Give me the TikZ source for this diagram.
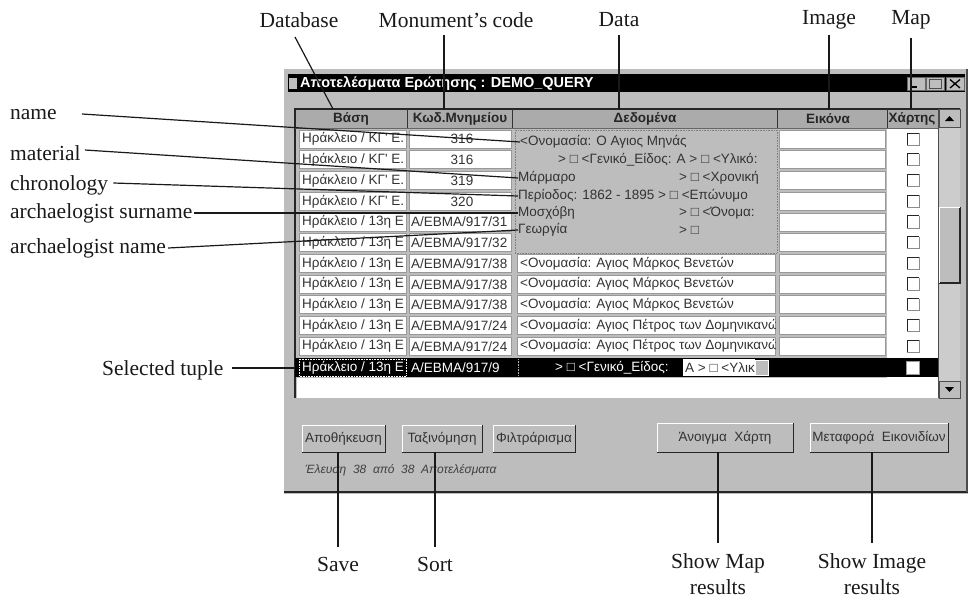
\documentclass[tikz,border=0pt]{standalone}
\usepackage{fontspec}
\setmainfont{Liberation Serif}
\newfontfamily\winfont{Liberation Sans}
\definecolor{hatch}{gray}{0.74}
\definecolor{hatchdk}{gray}{0.67}
\definecolor{track}{gray}{0.80}
\tikzset{
  ann/.style={font=\fontsize{21.5}{26}\selectfont, inner sep=0pt, text=black!90},
  conn/.style={draw=black!90, line width=1.2pt},
  cellbox/.style={fill=white, draw=black!40, line width=0.5pt},
  celltext/.style={font=\winfont\fontsize{13.5}{15}\selectfont, inner sep=0pt, text=black!80},
  hdrtext/.style={font=\winfont\bfseries\fontsize{13.5}{15}\selectfont, inner sep=0pt, text=black!85},
  btnbox/.style={fill=hatch, draw=white, line width=0.8pt, inner sep=0pt, font=\winfont\fontsize{13.5}{15}\selectfont, text=black!80},
}
\newcommand{\tabrow}[6]{%
  \pgfmathsetmacro{\rtop}{130+20.7*#1}%
  \pgfmathsetmacro{\rbot}{\rtop+18}%
  \pgfmathsetmacro{\rmid}{\rtop+9.3}%
  \filldraw[cellbox] (299,\rtop) rectangle (406,\rbot);
  \filldraw[cellbox] (409,\rtop) rectangle (511,\rbot);
  \filldraw[cellbox] (779,\rtop) rectangle (885,\rbot);
  \begin{scope}
    \clip (299,\rtop) rectangle (406,\rbot);
    \node[celltext, anchor=west] (base#1) at (302,\rmid) {#2};
  \end{scope}
  \node[celltext, anchor=#5] (code#1) at (#4,\rmid) {#3};
  \draw[black!85, line width=1pt] (907,\rtop+15) -- (907,\rtop+3) -- (919,\rtop+3);
  \draw[black!45, line width=0.6pt] (919,\rtop+3) -- (919,\rtop+15) -- (907,\rtop+15);
  \ifx&#6&\else
    \filldraw[cellbox] (517,\rtop) rectangle (775,\rbot);
    \begin{scope}
      \clip (517,\rtop) rectangle (775,\rbot);
      \node[celltext, anchor=west] (data#1) at (520,\rmid) {#6};
    \end{scope}
  \fi
}
\begin{document}
\begin{tikzpicture}[x=1pt,y=-1pt]
\useasboundingbox (0,0) rectangle (969,602);

% ---------------- window ----------------
\fill[hatch] (284,69) rectangle (968,494);
\fill[black] (288,74) rectangle (965,92);
\fill[hatch] (289,78) rectangle (297,89);
\node[anchor=west, inner sep=0pt, font=\winfont\bfseries\fontsize{14.5}{16}\selectfont, text=white] (title) at (300,83.5) {Αποτελέσματα Ερώτησης : DEMO\_QUERY};
% title buttons
\filldraw[fill=hatch, draw=black!60] (907,77) rectangle (925,90);
\draw[black, line width=1.5pt] (910,87) -- (917,87);
\filldraw[fill=hatch, draw=black!60] (926,77) rectangle (944,90);
\draw[black!70, line width=0.8pt] (929,79.5) rectangle (941,88);
\filldraw[fill=hatch, draw=black!60] (946,77) rectangle (964,90);
\draw[black, line width=1.3pt] (950,79.5) -- (960,88) (950,88) -- (960,79.5);

% ---------------- table ----------------
\coordinate (hdrtop) at (295,109);
\fill[hatchdk] (295,109) rectangle (938,128);
\fill[white] (887,128) rectangle (938,398);
\fill[white] (297,378) rectangle (938,398);
\draw[black!85, line width=1.2pt] (295,398) -- (295,109) -- (960,109);
\foreach \cx in {407,512,777,887,938} \draw[black!80, line width=1pt] (\cx,109) -- (\cx,128);
\draw[black!60, line width=0.6pt] (295,128) -- (938,128);
\node[hdrtext] (hbase) at (351,118.5) {Βάση};
\node[hdrtext] (hcode) at (460,118.5) {Κωδ.Μνημείου};
\node[hdrtext] (hdata) at (645,118.5) {Δεδομένα};
\node[hdrtext] (himg) at (828,118.5) {Εικόνα};
\node[hdrtext] (hmap) at (912,118.5) {Χάρτης};

% expanded data cell (rows 1-6)
\draw[black!50, densely dotted, line width=0.6pt] (515,130) rectangle (777,253);
\node[celltext, anchor=west] (d1) at (520,142) {<Ονομασία: Ο Αγιος Μηνάς};
\node[celltext, anchor=west] (d2) at (558,160) {> □ <Γενικό\_Είδος: Α > □ <Υλικό:};
\node[celltext, anchor=west] (d3) at (518,178) {Μάρμαρο};
\node[celltext, anchor=west] (d3r) at (679,178) {> □ <Χρονική};
\node[celltext, anchor=west] (d4) at (518,196) {Περίοδος: 1862 - 1895 > □ <Επώνυμο};
\node[celltext, anchor=west] (d5) at (518,213) {Μοσχόβη};
\node[celltext, anchor=west] (d5r) at (679,213) {> □ <Όνομα:};
\node[celltext, anchor=west] (d6) at (518,230) {Γεωργία};
\node[celltext, anchor=west] (d6r) at (679,230) {> □};

\tabrow{0}{Ηράκλειο / ΚΓ' Ε.}{316}{462}{center}{}
\tabrow{1}{Ηράκλειο / ΚΓ' Ε.}{316}{462}{center}{}
\tabrow{2}{Ηράκλειο / ΚΓ' Ε.}{319}{462}{center}{}
\tabrow{3}{Ηράκλειο / ΚΓ' Ε.}{320}{462}{center}{}
\tabrow{4}{Ηράκλειο / 13η Ε}{A/EBMA/917/31}{411}{west}{}
\tabrow{5}{Ηράκλειο / 13η Ε}{A/EBMA/917/32}{411}{west}{}
\tabrow{6}{Ηράκλειο / 13η Ε}{A/EBMA/917/38}{411}{west}{<Ονομασία: Αγιος Μάρκος Βενετών}
\tabrow{7}{Ηράκλειο / 13η Ε}{A/EBMA/917/38}{411}{west}{<Ονομασία: Αγιος Μάρκος Βενετών}
\tabrow{8}{Ηράκλειο / 13η Ε}{A/EBMA/917/38}{411}{west}{<Ονομασία: Αγιος Μάρκος Βενετών}
\tabrow{9}{Ηράκλειο / 13η Ε}{A/EBMA/917/24}{411}{west}{<Ονομασία: Αγιος Πέτρος των Δομηνικανών}
\tabrow{10}{Ηράκλειο / 13η Ε}{A/EBMA/917/24}{411}{west}{<Ονομασία: Αγιος Πέτρος των Δομηνικανών}

% selected row
\node[fill=black, minimum width=643pt, minimum height=19pt, inner sep=0pt, anchor=north west] (selrow) at (295,358) {};
\begin{scope}
  \clip (299,358) rectangle (406,377);
  \node[celltext, anchor=west, text=white] (base11) at (302,367.5) {Ηράκλειο / 13η Ε};
\end{scope}
\draw[white, densely dotted, line width=0.6pt] (299,359) rectangle (406,376);
\node[celltext, anchor=west, text=white] (code11) at (411,367.5) {A/EBMA/917/9};
\draw[white!70!black, densely dotted, line width=0.6pt] (518,359) -- (518,376);
\node[celltext, anchor=west, text=white] (data11) at (555,367.5) {> □ <Γενικό\_Είδος:};
\fill[white] (683,359) rectangle (755,376);
\begin{scope}
  \clip (683,359) rectangle (755,376);
  \node[celltext, anchor=west] (data11b) at (685,367.5) {Α > □ <Υλικό};
\end{scope}
\filldraw[fill=hatch, draw=white] (755,360) rectangle (768,375);
\filldraw[fill=white, draw=black!40] (906,361) rectangle (919,374);

% scrollbar
\fill[track] (939,127) rectangle (960,381);
\filldraw[fill=hatch, draw=black!70, line width=0.6pt] (939,109) rectangle (960,127);
\fill[black] (945,121) -- (954,121) -- (949.5,116) -- cycle;
\filldraw[fill=hatch, draw=black!70, line width=0.6pt] (939,381) rectangle (960,398);
\fill[black] (945,387) -- (954,387) -- (949.5,392) -- cycle;
\fill[hatch] (939,207) rectangle (960,283);
\draw[black!85, line width=1.2pt] (939,283) -- (960,283) -- (960,207);
\draw[white, line width=0.6pt] (939,283) -- (939,207) -- (960,207);
\draw[black!70, line width=0.8pt] (938,109) -- (938,398);

% buttons
\node[btnbox, minimum width=83pt, minimum height=27pt] (bsave) at (343.5,438.5) {Αποθήκευση};
\node[btnbox, minimum width=80pt, minimum height=27pt] (bsort) at (442,438.5) {Ταξινόμηση};
\node[btnbox, minimum width=82pt, minimum height=27pt] (bfilt) at (534,438.5) {Φιλτράρισμα};
\node[btnbox, minimum width=136pt, minimum height=29pt] (bmap) at (725,437.5) {Άνοιγμα\ \ Χάρτη};
\node[btnbox, minimum width=138pt, minimum height=29pt] (bimg) at (879,437.5) {Μεταφορά\ \ Εικονιδίων};
\foreach \b in {bsave,bsort,bfilt,bmap,bimg}
  \draw[black!85, line width=1.4pt] (\b.south west) -- (\b.south east) -- (\b.north east);
\node[anchor=west, inner sep=0pt, font=\winfont\itshape\fontsize{12}{14}\selectfont, text=black!75] (status) at (305,470) {Έλευση\ \ 38\ \ από\ \ 38\ \ Αποτελέσματα};

% window bottom / right edges
\draw[black!85, line width=2.5pt] (284,492) -- (968,492);
\draw[black!70, line width=1.5pt] (967,69) -- (967,492);

% ---------------- annotations ----------------
\node[ann] (lbldb) at (299,20) {Database};
\node[ann] (lblmon) at (456,20) {Monument’s code};
\node[ann] (lbldata) at (619,20) {Data};
\node[ann] (lblimg) at (829,20) {Image};
\node[ann] (lblmap) at (911,20) {Map};
\coordinate (dbA) at (295,37);
\coordinate (dbB) at (333,109);
\coordinate (monA) at (444,35);
\draw[conn] (dbA) -- (dbB);
\draw[conn] (monA) -- (monA |- hdrtop);
\draw[conn] ([yshift=-8pt]lbldata.south) -- (lbldata.south |- hdrtop);
\draw[conn] ([yshift=-5pt]lblimg.south) -- (lblimg.south |- hdrtop);
\draw[conn] ([yshift=-8pt]lblmap.south) -- (lblmap.south |- hdrtop);

\node[ann, anchor=west] (lblname) at (10,115) {name};
\node[ann, anchor=west] (lblmat) at (10,153) {material};
\node[ann, anchor=west] (lblchr) at (10,185) {chronology};
\node[ann, anchor=west] (lblsur) at (10,213) {archaelogist surname};
\node[ann, anchor=west] (lblarn) at (10,248) {archaelogist name};
\node[ann, anchor=west] (lblsel) at (102,370) {Selected tuple};
\draw[conn] ([xshift=25pt,yshift=1pt]lblname.east) -- (d1.west);
\draw[conn] ([xshift=4pt,yshift=3pt]lblmat.east) -- (d3.west);
\draw[conn] ([xshift=5pt,yshift=2pt]lblchr.east) -- (d4.west);
\draw[conn] ([xshift=2pt]lblsur.east) -- (d5.west);
\draw[conn] ([xshift=2pt]lblarn.east) -- (d6.west);
\coordinate (selA) at ([xshift=8pt,yshift=2pt]lblsel.east);
\draw[conn] (selA) -- (selA -| selrow.west);

\node[ann] (lblsave) at (338,564) {Save};
\node[ann] (lblsort) at (435,564) {Sort};
\node[ann, align=center] (lblsmap) at (718,574) {Show Map\\results};
\node[ann, align=center] (lblsimg) at (872,574) {Show Image\\results};
\draw[conn] (lblsave.north |- bsave.south) -- ([yshift=10pt]lblsave.north);
\draw[conn] (lblsort.north |- bsort.south) -- ([yshift=10pt]lblsort.north);
\draw[conn] (lblsmap.north |- bmap.south) -- ([yshift=10pt]lblsmap.north);
\draw[conn] (lblsimg.north |- bimg.south) -- ([yshift=10pt]lblsimg.north);
\end{tikzpicture}
\end{document}
